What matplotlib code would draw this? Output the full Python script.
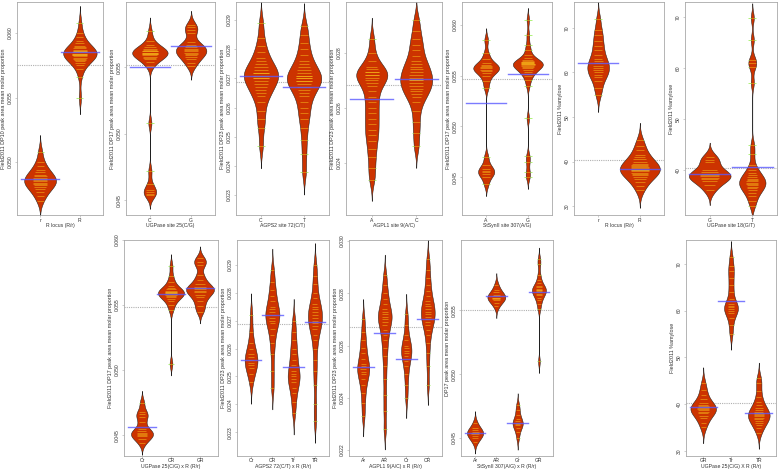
import numpy as np
import matplotlib.pyplot as plt

plt.rcParams['font.family'] = ['Liberation Sans', 'DejaVu Sans']

# ---------------- data ----------------
# top row, panel 1 : DP10 by R locus
p1_cats = ['r', 'R']
p1_r = [0.0508, 0.0500, 0.0497, 0.0494, 0.0492, 0.0490, 0.0489, 0.0488, 0.0487, 0.0486,
        0.0485, 0.0484, 0.0483, 0.0482, 0.0481, 0.0479, 0.0477, 0.0474, 0.0470]
p1_R = [0.0608, 0.0600, 0.0597, 0.0594, 0.0592, 0.0590, 0.0589, 0.0588, 0.0587, 0.0586,
        0.0586, 0.0585, 0.0585, 0.0584, 0.0584, 0.0583, 0.0583, 0.0582, 0.0581, 0.0580,
        0.0579, 0.0578, 0.0577, 0.0575, 0.0572, 0.0566, 0.0550]
p1_means = [0.0487, 0.0585]
p1_grand = 0.0575

# panel 2 : DP17 by UGPase site 25
p2_cats = ['C', 'G']
p2_C = [0.0577, 0.0570, 0.0567, 0.0565, 0.0564, 0.0563, 0.0562, 0.0562, 0.0561, 0.0561,
        0.0560, 0.0560, 0.0559, 0.0558, 0.0557, 0.0556, 0.0554, 0.0551, 0.0508, 0.0472,
        0.0462, 0.0458, 0.0456, 0.0455, 0.0454]
p2_G = [0.0582, 0.0580, 0.0578, 0.0576, 0.0569, 0.0567, 0.0566, 0.0565, 0.0564, 0.0563,
        0.0562, 0.0561, 0.0560, 0.0559, 0.0558, 0.0556, 0.0553, 0.0551]
p2_means = [0.0550, 0.0566]
p2_grand = 0.0552

# panel 3 : DP23 by AGPS2 site 72
p3_cats = ['C', 'T']
p3_C = [0.0289, 0.0284, 0.0281, 0.0279, 0.0277, 0.0276, 0.0275, 0.0274, 0.0273, 0.0272,
        0.0272, 0.0271, 0.0271, 0.0270, 0.0270, 0.0269, 0.0268, 0.0267, 0.0266, 0.0265,
        0.0264, 0.0262, 0.0259, 0.0256, 0.0253, 0.0247]
p3_T = [0.0288, 0.0285, 0.0282, 0.0280, 0.0278, 0.0276, 0.0275, 0.0274, 0.0273, 0.0272,
        0.0271, 0.0271, 0.0270, 0.0270, 0.0269, 0.0269, 0.0268, 0.0267, 0.0266, 0.0265,
        0.0264, 0.0262, 0.0260, 0.0258, 0.0256, 0.0253, 0.0249, 0.0244, 0.0238]
p3_means = [0.02708, 0.02671]
p3_grand = 0.02688

# panel 4 : DP23 by AGPL1 site 9
p4_cats = ['A', 'C']
p4_A = [0.0285, 0.0280, 0.0277, 0.0275, 0.0274, 0.0273, 0.0273, 0.0272, 0.0272, 0.0271,
        0.0270, 0.0269, 0.0268, 0.0266, 0.0264, 0.0262, 0.0260, 0.0258, 0.0256, 0.0254,
        0.0252, 0.0250, 0.0248, 0.0245, 0.0242, 0.0238, 0.0234]
p4_C = [0.0292, 0.0288, 0.0285, 0.0283, 0.0281, 0.0279, 0.0277, 0.0276, 0.0275, 0.0274,
        0.0273, 0.0272, 0.0271, 0.0270, 0.0270, 0.0269, 0.0268, 0.0267, 0.0266, 0.0265,
        0.0264, 0.0262, 0.0259, 0.0255, 0.0251, 0.0246]
p4_means = [0.02633, 0.02705]
p4_grand = 0.02684

# panel 5 : DP17 by StSynII site 307
p5_cats = ['A', 'G']
p5_A = [0.0585, 0.0572, 0.0566, 0.0562, 0.0560, 0.0559, 0.0558, 0.0557, 0.0556, 0.0555,
        0.0553, 0.0550, 0.0545, 0.0538,
        0.0470, 0.0462, 0.0458, 0.0456, 0.0455, 0.0453, 0.0450, 0.0443]
p5_G = [0.0605, 0.0590, 0.0580, 0.0575, 0.0570, 0.0567, 0.0565, 0.0564, 0.0563, 0.0563,
        0.0562, 0.0562, 0.0561, 0.0561, 0.0560, 0.0559, 0.0558, 0.0557, 0.0556, 0.0554,
        0.0552, 0.0550, 0.0546, 0.0540, 0.0508, 0.0471, 0.0465, 0.0455, 0.0450]
p5_means = [0.05235, 0.0552]
p5_grand = 0.05471

# panel 6 : %amylose by R locus
p6_cats = ['r', 'R']
p6_r = [72.0, 69.5, 68.5, 67.0, 66.0, 65.0, 64.0, 63.0, 62.5, 62.0,
        61.5, 61.0, 60.5, 60.0, 59.5, 59.0, 58.0, 56.5, 55.0]
p6_R = [44.8, 43.5, 42.5, 41.5, 41.0, 40.5, 40.0, 39.5, 39.2, 39.0, 38.8, 38.5,
        38.2, 38.0, 37.8, 37.5, 37.2, 37.0, 36.5, 36.0, 35.5, 34.5, 33.5]
p6_means = [62.1, 38.3]
p6_grand = 40.3

# panel 7 : %amylose by UGPase site 18
p7_cats = ['G', 'T']
p7_G = [42.5, 42.0, 41.5, 40.0, 39.6, 39.3, 39.0, 38.8, 38.5, 38.2, 37.8, 37.0, 36.0]
p7_T = [69.8, 65.5, 61.6, 61.0, 60.2, 57.1, 44.9, 43.1, 41.0, 40.0, 39.5, 39.0, 38.6,
        38.3, 38.0, 37.8, 37.5, 37.2, 37.0, 36.7, 36.4, 36.0, 35.5, 35.0, 34.0, 33.0]
p7_means = [39.2, 40.6]
p7_grand = 40.4

# bottom row, panel 8 : DP17 by UGPase 25 x R
p8_cats = ['Cr', 'CR', 'GR']
p8_Cr = [0.0475, 0.0468, 0.0466, 0.0464, 0.0460, 0.0455, 0.0453, 0.0452, 0.0451, 0.0450,
         0.0449, 0.0447, 0.0444]
p8_CR = [0.0580, 0.0572, 0.0568, 0.0565, 0.0563, 0.0562, 0.0561, 0.0560, 0.0560, 0.0559,
         0.0559, 0.0558, 0.0557, 0.0556, 0.0555, 0.0553, 0.0550, 0.0546, 0.0505]
p8_GR = [0.0586, 0.0583, 0.0581, 0.0573, 0.0569, 0.0566, 0.0564, 0.0563, 0.0562, 0.0561,
         0.0560, 0.0558, 0.0556, 0.0553, 0.0549, 0.0545]
p8_means = [0.04562, 0.05585, 0.0563]
p8_grand = 0.05485

# panel 9 : DP23 by AGPS2 72 x R
p9_cats = ['Cr', 'CR', 'Tr', 'TR']
p9_Cr = [0.0272, 0.0266, 0.0262, 0.0260, 0.0258, 0.0257, 0.0256, 0.0255, 0.0254, 0.0253,
         0.0251, 0.0248]
p9_CR = [0.0288, 0.0284, 0.0281, 0.0279, 0.0277, 0.0275, 0.0274, 0.0273, 0.0272, 0.0271,
         0.0270, 0.0269, 0.0267, 0.0265, 0.0262, 0.0258, 0.0252, 0.0246]
p9_Tr = [0.0270, 0.0266, 0.0263, 0.0260, 0.0258, 0.0256, 0.0254, 0.0252, 0.0251, 0.0250,
         0.0249, 0.0248, 0.0246, 0.0244, 0.0241, 0.0237]
p9_TR = [0.0290, 0.0286, 0.0283, 0.0280, 0.0278, 0.0276, 0.0275, 0.0274, 0.0273, 0.0272,
         0.0271, 0.0270, 0.0269, 0.0268, 0.0267, 0.0265, 0.0263, 0.0260, 0.0256, 0.0252,
         0.0247, 0.0240, 0.0234]
p9_means = [0.0256, 0.0272, 0.02535, 0.02694]
p9_grand = 0.02687

# panel 10 : DP23 by AGPL1 9 x R
p10_cats = ['Ar', 'AR', 'Cr', 'CR']
p10_Ar = [0.0270, 0.0265, 0.0262, 0.0259, 0.0257, 0.0255, 0.0253, 0.0252, 0.0251, 0.0250,
          0.0249, 0.0247, 0.0245, 0.0242, 0.0238, 0.0233]
p10_AR = [0.0287, 0.0283, 0.0280, 0.0278, 0.0276, 0.0274, 0.0273, 0.0272, 0.0271, 0.0270,
          0.0269, 0.0268, 0.0266, 0.0264, 0.0262, 0.0259, 0.0256, 0.0252, 0.0247, 0.0241,
          0.0235, 0.0228]
p10_Cr = [0.0272, 0.0268, 0.0264, 0.0262, 0.0260, 0.0259, 0.0258, 0.0257, 0.0256, 0.0254,
          0.0252, 0.0249, 0.0245, 0.0240]
p10_CR = [0.0293, 0.0289, 0.0286, 0.0283, 0.0281, 0.0279, 0.0277, 0.0276, 0.0275, 0.0274,
          0.0273, 0.0272, 0.0271, 0.0270, 0.0269, 0.0268, 0.0266, 0.0264, 0.0261, 0.0257,
          0.0252, 0.0245]
p10_means = [0.02519, 0.02648, 0.02549, 0.02701]
p10_grand = 0.0267

# panel 11 : DP17 by StSynII 307 x R
p11_cats = ['Ar', 'AR', 'Gr', 'GR']
p11_Ar = [0.0462, 0.0458, 0.0456, 0.0455, 0.0454, 0.0453, 0.0452, 0.0450, 0.0447]
p11_AR = [0.0570, 0.0566, 0.0564, 0.0562, 0.0561, 0.0560, 0.0560, 0.0559, 0.0558, 0.0556,
          0.0553]
p11_Gr = [0.0476, 0.0472, 0.0468, 0.0465, 0.0463, 0.0462, 0.0461, 0.0460, 0.0458, 0.0455,
          0.0450]
p11_GR = [0.0590, 0.0586, 0.0578, 0.0574, 0.0571, 0.0569, 0.0568, 0.0567, 0.0566, 0.0566,
          0.0565, 0.0564, 0.0563, 0.0562, 0.0560, 0.0558, 0.0555, 0.0551, 0.0510]
p11_means = [0.04539, 0.05609, 0.04616, 0.0564]
p11_grand = 0.0550

# panel 12 : %amylose by UGPase 25 x R
p12_cats = ['GR', 'Tr', 'TR']
p12_GR = [44.5, 43.0, 42.0, 41.0, 40.3, 39.8, 39.5, 39.3, 39.1, 38.9, 38.7, 38.4,
          38.0, 37.5, 37.0, 36.0, 35.0]
p12_Tr = [71.5, 69.5, 68.5, 67.0, 65.5, 64.0, 62.5, 61.5, 61.0, 60.7, 60.3, 60.0,
          59.5, 58.5, 57.0, 55.0]
p12_TR = [45.5, 44.6, 42.9, 41.5, 40.5, 39.8, 39.2, 38.8, 38.4, 38.1, 37.8, 37.6,
          37.4, 37.1, 36.8, 36.4, 36.0, 35.5, 34.8, 33.8]
p12_means = [39.3, 62.0, 38.0]
p12_grand = 40.3

dp_tick_3 = ['0.045', '0.050', '0.055']
dp_tick_4 = ['0.045', '0.050', '0.055', '0.060']
dp23_tick_a = ['0.023', '0.024', '0.025', '0.026', '0.027', '0.028', '0.029']
amy_ticks = ['30', '40', '50', '60', '70']

ylab_dp10 = 'Field2011 DP10 peak area mean molar proportion'
ylab_dp17 = 'Field2011 DP17 peak area mean molar proportion'
ylab_dp23 = 'Field2011 DP23 peak area mean molar proportion'
ylab_amy = 'Field2011 %amylose'

# ---------------- style ----------------
bean_col = '#cc3300'
inner_col = '#ffd21f'
outer_col = '#99ee55'
avg_col = '#5a5aff'
frame_col = '#a8a8a8'
text_col = '#333333'

W, H = 778, 471


def frame(left, right, top, bottom):
	return [left / W, 1 - bottom / H, (right - left) / W, (bottom - top) / H]


def bean_panel(ax, cats, groups, means, grand, ticks, ylim, bw, halfw, xlabel, ylabel):
	n = len(cats)
	for i, obs in enumerate(groups):
		pos = i + 1
		obs = np.asarray(obs, dtype=float)
		grid = np.linspace(obs.min() - 2.6 * bw, obs.max() + 2.6 * bw, 500)
		dens = np.exp(-0.5 * ((grid[:, None] - obs[None, :]) / bw) ** 2).sum(axis=1)
		dens = dens / dens.max() * halfw[i]
		ax.fill_betweenx(grid, pos - dens, pos + dens, facecolor=bean_col,
						 edgecolor='#1a1a1a', lw=0.35, zorder=2)
		local = np.interp(obs, grid, dens)
		for v, w in zip(obs, local):
			half = max(0.09, 0.45 * w)
			inner = min(half, w)
			ax.plot([pos - inner, pos + inner], [v, v], color=inner_col, alpha=0.45,
					lw=0.7, zorder=3, solid_capstyle='butt')
			if w < half:
				ax.plot([pos - half, pos - w], [v, v], color=outer_col, alpha=0.8,
						lw=0.7, zorder=3, solid_capstyle='butt')
				ax.plot([pos + w, pos + half], [v, v], color=outer_col, alpha=0.8,
						lw=0.7, zorder=3, solid_capstyle='butt')
		ax.plot([pos - 0.48, pos + 0.48], [means[i], means[i]], color=avg_col,
				alpha=0.8, lw=1.0, zorder=4)
	ax.axhline(grand, color='#b0b0b0', lw=0.8, ls=(0, (1, 1)), zorder=1)

	ax.set_xlim(0.5 - 0.04 * n, n + 0.5 + 0.04 * n)
	ax.set_ylim(*ylim)
	ax.set_xticks(range(1, n + 1))
	ax.set_xticklabels(cats)
	ax.set_yticks([float(t) for t in ticks])
	ax.set_yticklabels(ticks)
	for lab in ax.get_yticklabels():
		lab.set_rotation(90)
		lab.set_va('center')
	ax.tick_params(axis='y', length=1.8, width=0.4, color=frame_col, pad=1.2,
				   labelsize=3.6, labelcolor=text_col)
	ax.tick_params(axis='x', length=1.2, width=0.4, color=frame_col, pad=0.6,
				   labelsize=3.6, labelcolor=text_col)
	ax.set_xlabel(xlabel, fontsize=3.7, color=text_col, labelpad=0.4)
	ax.set_ylabel(ylabel, fontsize=3.9, color=text_col, labelpad=1.5)
	for sp in ax.spines.values():
		sp.set_color(frame_col)
		sp.set_linewidth(0.6)


panels = [
	# top row
	(frame(17, 103, 2, 215), p1_cats, [p1_r, p1_R], p1_means, p1_grand,
	 ['0.050', '0.055', '0.060'], (0.0459, 0.0624), 0.0005, [0.40, 0.42],
	 'R locus (R/r)', ylab_dp10),
	(frame(126, 215, 2, 215), p2_cats, [p2_C, p2_G], p2_means, p2_grand,
	 dp_tick_3, (0.0439, 0.0599), 0.0004, [0.43, 0.37],
	 'UGPase site 25(C/G)', ylab_dp17),
	(frame(236, 329, 2, 215), p3_cats, [p3_C, p3_T], p3_means, p3_grand,
	 dp23_tick_a, (0.02232, 0.02962), 0.0003, [0.40, 0.40],
	 'AGPS2 site 72(C/T)', ylab_dp23),
	(frame(346, 442, 2, 215), p4_cats, [p4_A, p4_C], p4_means, p4_grand,
	 ['0.024', '0.026', '0.028'], (0.02211, 0.02985), 0.0003, [0.35, 0.36],
	 'AGPL1 site 9(A/C)', ylab_dp23),
	(frame(462, 552, 2, 215), p5_cats, [p5_A, p5_G], p5_means, p5_grand,
	 dp_tick_4, (0.04127, 0.06225), 0.00045, [0.31, 0.36],
	 'StSynII site 307(A/G)', ylab_dp17),
	(frame(574, 664, 2, 215), p6_cats, [p6_r, p6_R], p6_means, p6_grand,
	 amy_ticks, (28.0, 75.8), 1.5, [0.26, 0.48],
	 'R locus (R/r)', ylab_amy),
	(frame(685, 777, 2, 215), p7_cats, [p7_G, p7_T], p7_means, p7_grand,
	 amy_ticks[1:], (31.2, 72.9), 1.1, [0.49, 0.31],
	 'UGPase site 18(G/T)', ylab_amy),
	# bottom row
	(frame(124, 218, 240, 456), p8_cats, [p8_Cr, p8_CR, p8_GR], p8_means, p8_grand,
	 dp_tick_4, (0.0434, 0.0600), 0.00035, [0.38, 0.45, 0.48],
	 'UGPase 25(C/G) x R (R/r)', ylab_dp17),
	(frame(237, 329, 240, 456), p9_cats, [p9_Cr, p9_CR, p9_Tr, p9_TR], p9_means, p9_grand,
	 dp23_tick_a, (0.02215, 0.02989), 0.0003, [0.30, 0.33, 0.28, 0.33],
	 'AGPS2 72(C/T) x R (R/r)', ylab_dp23),
	(frame(349, 442, 240, 456), p10_cats, [p10_Ar, p10_AR, p10_Cr, p10_CR], p10_means, p10_grand,
	 ['0.022', '0.024', '0.026', '0.028', '0.030'], (0.02177, 0.03004), 0.0003,
	 [0.28, 0.32, 0.24, 0.32], 'AGPL1 9(A/C) x R (R/r)', ylab_dp23),
	(frame(461, 553, 240, 456), p11_cats, [p11_Ar, p11_AR, p11_Gr, p11_GR], p11_means, p11_grand,
	 dp_tick_3, (0.0436, 0.0605), 0.00035, [0.38, 0.42, 0.24, 0.33],
	 'StSynII 307(A/G) x R (R/r)', 'DP17 peak area mean molar proportion'),
	(frame(686, 776, 240, 456), p12_cats, [p12_GR, p12_Tr, p12_TR], p12_means, p12_grand,
	 amy_ticks, (28.9, 75.1), 1.3, [0.46, 0.25, 0.39],
	 'UGPase 25(C/G) X R (R/r)', ylab_amy),
]

fig = plt.figure(figsize=(W / 100, H / 100), dpi=100)
for rect, *args in panels:
	ax = fig.add_axes(rect)
	bean_panel(ax, *args)

plt.savefig('out.png', dpi=100)
plt.close()
